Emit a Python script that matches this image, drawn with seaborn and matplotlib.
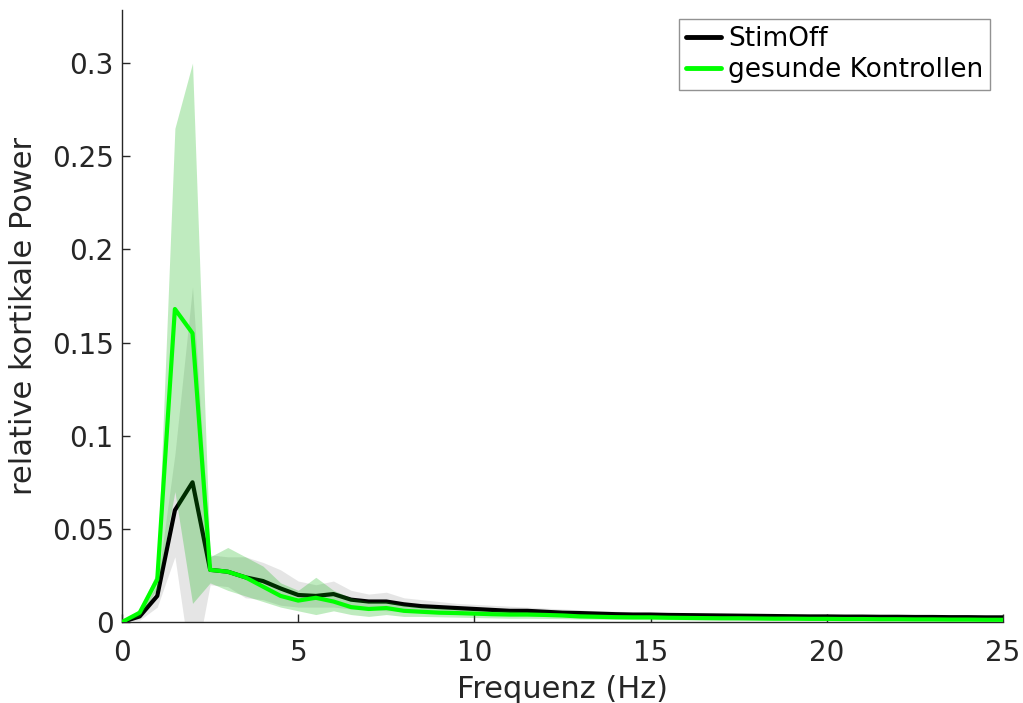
import matplotlib
matplotlib.use("Agg")
import matplotlib.pyplot as plt
import numpy as np
import pandas as pd
import seaborn as sns

freq = [i * 0.5 for i in range(51)]

stimoff_mean = [0, 0.003, 0.014, 0.060, 0.075, 0.028, 0.027, 0.024, 0.022, 0.018,
                0.0145, 0.014, 0.015, 0.012, 0.011, 0.011, 0.0095, 0.0085, 0.008, 0.0075,
                0.007, 0.0065, 0.006, 0.006, 0.0055, 0.005, 0.0048, 0.0045, 0.0042, 0.004,
                0.004, 0.0038, 0.0037, 0.0036, 0.0035, 0.0034, 0.0033, 0.0032, 0.0031, 0.003,
                0.003, 0.0029, 0.0029, 0.0028, 0.0028, 0.0027, 0.0027, 0.0026, 0.0026, 0.0025, 0.0025]
stimoff_upper = [0, 0.005, 0.02, 0.09, 0.180, 0.036, 0.035, 0.035, 0.032, 0.028,
                 0.022, 0.020, 0.022, 0.017, 0.015, 0.016, 0.013, 0.012, 0.011, 0.010,
                 0.0095, 0.009, 0.0085, 0.008, 0.0075, 0.007, 0.0065, 0.006, 0.0058, 0.0055,
                 0.0052, 0.005, 0.0048, 0.0046, 0.0045, 0.0044, 0.0043, 0.0042, 0.0041, 0.004,
                 0.0039, 0.0038, 0.0037, 0.0036, 0.0036, 0.0035, 0.0035, 0.0034, 0.0034, 0.0033, 0.0033]
stimoff_lower = [0, 0.001, 0.008, 0.035, -0.03, 0.020, 0.019, 0.013, 0.012, 0.009,
                 0.008, 0.008, 0.008, 0.007, 0.007, 0.006, 0.006, 0.005, 0.005, 0.005,
                 0.0045, 0.004, 0.004, 0.004, 0.0035, 0.0033, 0.003, 0.003, 0.0028, 0.0026,
                 0.0025, 0.0024, 0.0023, 0.0022, 0.0021, 0.002, 0.002, 0.0019, 0.0019, 0.0018,
                 0.0018, 0.0018, 0.0017, 0.0017, 0.0017, 0.0016, 0.0016, 0.0016, 0.0016, 0.0015, 0.0015]

ctrl_mean = [0, 0.005, 0.023, 0.168, 0.155, 0.028, 0.027, 0.024, 0.019, 0.014,
             0.0115, 0.013, 0.011, 0.008, 0.007, 0.0075, 0.006, 0.0055, 0.005, 0.0048,
             0.0045, 0.0042, 0.004, 0.004, 0.0038, 0.0035, 0.003, 0.0028, 0.0026, 0.0025,
             0.0025, 0.0023, 0.0022, 0.0021, 0.002, 0.002, 0.0019, 0.0018, 0.0018, 0.0017,
             0.0017, 0.0016, 0.0016, 0.0015, 0.0015, 0.0014, 0.0014, 0.0013, 0.0013, 0.0012, 0.0012]
ctrl_upper = [0, 0.007, 0.027, 0.265, 0.300, 0.035, 0.040, 0.035, 0.030, 0.021,
              0.017, 0.024, 0.017, 0.013, 0.011, 0.011, 0.009, 0.008, 0.0075, 0.007,
              0.0065, 0.006, 0.006, 0.0055, 0.005, 0.0048, 0.0045, 0.0042, 0.004, 0.0038,
              0.0036, 0.0034, 0.0033, 0.0032, 0.0031, 0.003, 0.0029, 0.0028, 0.0027, 0.0026,
              0.0026, 0.0025, 0.0025, 0.0024, 0.0024, 0.0023, 0.0023, 0.0022, 0.0022, 0.0021, 0.0021]
ctrl_lower = [0, 0.003, 0.018, 0.07, 0.010, 0.021, 0.017, 0.014, 0.011, 0.008,
              0.006, 0.004, 0.006, 0.004, 0.003, 0.004, 0.003, 0.003, 0.0028, 0.0026,
              0.0024, 0.0022, 0.002, 0.002, 0.0019, 0.0018, 0.0016, 0.0015, 0.0014, 0.0013,
              0.0012, 0.0012, 0.0011, 0.001, 0.001, 0.0009, 0.0009, 0.0008, 0.0008, 0.0008,
              0.0007, 0.0007, 0.0007, 0.0006, 0.0006, 0.0006, 0.0005, 0.0005, 0.0005, 0.0005, 0.0005]

x_ticks = [0, 5, 10, 15, 20, 25]
y_ticks = [0, 0.05, 0.1, 0.15, 0.2, 0.25, 0.3]
y_tick_labels = ["0", "0.05", "0.1", "0.15", "0.2", "0.25", "0.3"]
labels = ["StimOff", "gesunde Kontrollen"]

sns.set_theme(style="ticks")
plt.rcParams["font.family"] = ["DejaVu Sans"]
text_color = "#262626"

df = pd.DataFrame({
    "f": freq * 2,
    "power": stimoff_mean + ctrl_mean,
    "group": [labels[0]] * len(freq) + [labels[1]] * len(freq),
})

fig = plt.figure(figsize=(10.23, 7.03), dpi=100)
ax = fig.add_axes([0.1193, 0.1152, 0.8611, 0.8706])

ax.fill_between(freq, stimoff_lower, stimoff_upper, color=(0.5, 0.5, 0.5), alpha=0.2,
                linewidth=0, zorder=1)
sns.lineplot(data=df[df.group == labels[0]], x="f", y="power", color="black",
             linewidth=3, ax=ax, label=labels[0], zorder=2)
ax.fill_between(freq, ctrl_lower, ctrl_upper, color=(0.0, 0.7, 0.0), alpha=0.25,
                linewidth=0, zorder=3)
sns.lineplot(data=df[df.group == labels[1]], x="f", y="power", color="#00ff00",
             linewidth=3, ax=ax, label=labels[1], zorder=4)

ax.set_xlim(0, 25)
ax.set_ylim(0, 0.3285)
ax.set_xticks(x_ticks)
ax.set_xticklabels([str(t) for t in x_ticks])
ax.set_yticks(y_ticks)
ax.set_yticklabels(y_tick_labels)
ax.tick_params(direction="in", length=6, width=1, colors=text_color, labelsize=20,
               pad=6)
ax.tick_params(axis="x", pad=12)
for s in ["top", "right"]:
    ax.spines[s].set_visible(False)
for s in ["left", "bottom"]:
    ax.spines[s].set_color(text_color)
    ax.spines[s].set_linewidth(1)

ax.set_xlabel("Frequenz (Hz)", fontsize=22, color=text_color, labelpad=6)
ax.set_ylabel("relative kortikale Power", fontsize=22, color=text_color, labelpad=10)

leg = ax.legend(loc="upper right", fontsize=19, frameon=True, fancybox=False,
                handlelength=1.35, handletextpad=0.25, borderpad=0.25,
                labelspacing=0.2, borderaxespad=0.0, bbox_to_anchor=(0.985, 0.985))
leg.get_frame().set_edgecolor("#777777")
leg.get_frame().set_linewidth(1)
for line in leg.get_lines():
    line.set_linewidth(3.5)
for t in leg.get_texts():
    t.set_color("black")

fig.savefig("out.png", dpi=100, facecolor="white")
